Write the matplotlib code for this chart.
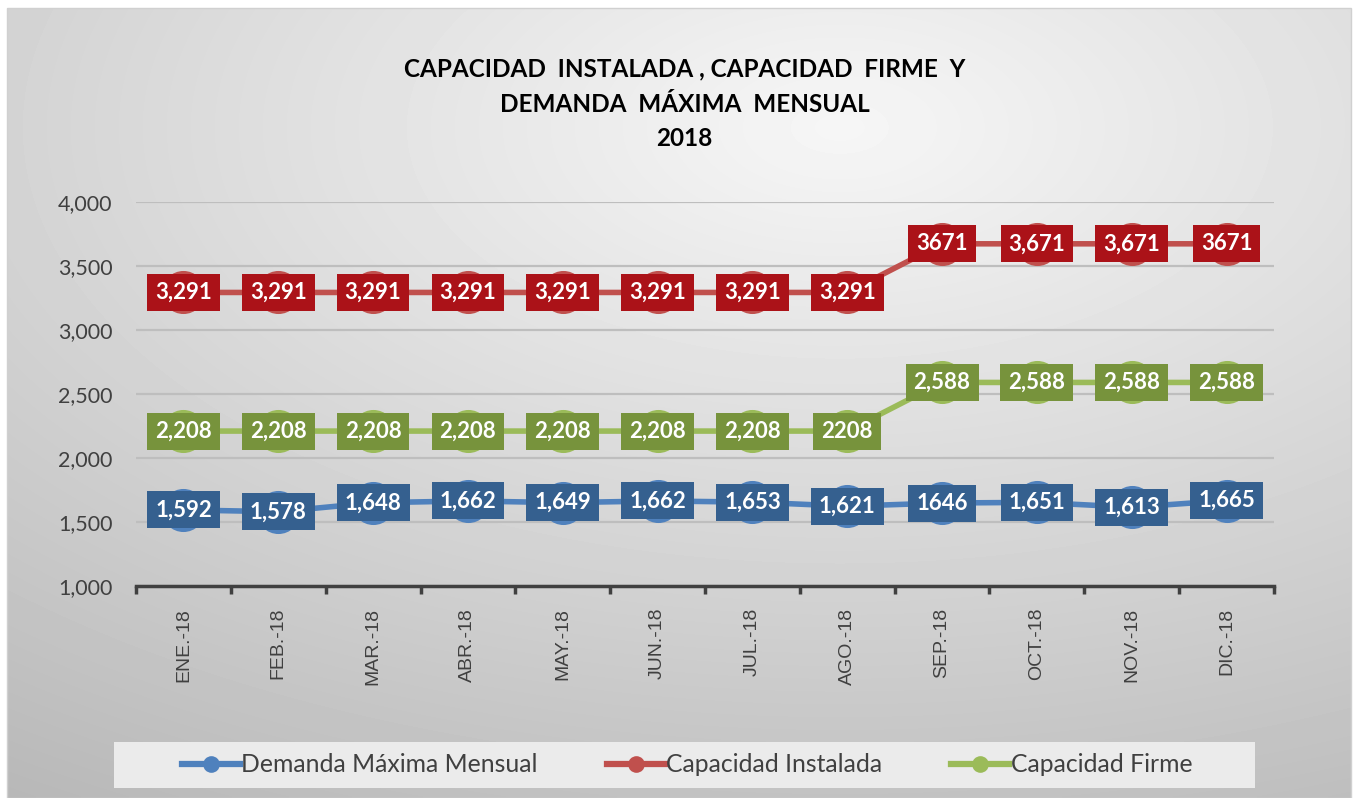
import numpy as np
import matplotlib
matplotlib.use('Agg')
import matplotlib.pyplot as plt
from matplotlib.lines import Line2D
from matplotlib.patches import Rectangle

W, H = 1353, 798

MONTHS = ['ENE.-18', 'FEB.-18', 'MAR.-18', 'ABR.-18', 'MAY.-18', 'JUN.-18',
          'JUL.-18', 'AGO.-18', 'SEP.-18', 'OCT.-18', 'NOV.-18', 'DIC.-18']

DEMANDA = [1592, 1578, 1648, 1662, 1649, 1662, 1653, 1621, 1646, 1651, 1613, 1665]
INSTALADA = [3291, 3291, 3291, 3291, 3291, 3291, 3291, 3291, 3671, 3671, 3671, 3671]
FIRME = [2208, 2208, 2208, 2208, 2208, 2208, 2208, 2208, 2588, 2588, 2588, 2588]

# labels as printed on the chart (formatting is not uniform)
DEMANDA_LBL = ['1,592', '1,578', '1,648', '1,662', '1,649', '1,662', '1,653',
               '1,621', '1646', '1,651', '1,613', '1,665']
INSTALADA_LBL = ['3,291'] * 8 + ['3671', '3,671', '3,671', '3671']
FIRME_LBL = ['2,208'] * 7 + ['2208', '2,588', '2,588', '2,588', '2,588']

Y_TICKS = [1000, 1500, 2000, 2500, 3000, 3500, 4000]

BLUE_LINE = '#4F81BD'
BLUE_BOX = '#35608F'
RED_LINE = '#C0504D'
RED_BOX = '#AB1218'
GREEN_LINE = '#9BBB59'
GREEN_BOX = '#77933C'
TEXT_GRAY = '#404040'

plt.rcParams['font.family'] = ['Lato', 'DejaVu Sans']

fig = plt.figure(figsize=(W / 100, H / 100), dpi=100)

# background: radial gray gradient inside a thin white margin
bg = fig.add_axes([0, 0, 1, 1], zorder=-10)
xx, yy = np.meshgrid(np.linspace(0, 1, 400), np.linspace(0, 1, 240))
r = np.sqrt(((xx - 0.62) / 1.1) ** 2 + ((yy - 0.15) / 1.0) ** 2)
shade = np.clip(0.965 - 0.24 * r, 0.72, 1)
bg.imshow(shade, cmap='gray', vmin=0, vmax=1, extent=[7, 1351, H, 8],
          aspect='auto', interpolation='bilinear')
bg.add_patch(Rectangle((7, 8), 1344, H - 8, fill=False, edgecolor='#D0D0D0', lw=1))
bg.set_xlim(0, W)
bg.set_ylim(H, 0)
bg.axis('off')

ax = fig.add_axes([136 / W, 1 - 585.7 / H, (1274 - 136) / W, (585.7 - 201.7) / H])
ax.patch.set_alpha(0)

x = np.arange(len(MONTHS))
series = [
    (DEMANDA, DEMANDA_LBL, BLUE_LINE, BLUE_BOX, 'Demanda Máxima Mensual'),
    (INSTALADA, INSTALADA_LBL, RED_LINE, RED_BOX, 'Capacidad Instalada'),
    (FIRME, FIRME_LBL, GREEN_LINE, GREEN_BOX, 'Capacidad Firme'),
]
handles = []
for vals, lbls, lc, bc, name in series:
    ax.plot(x, vals, color=lc, lw=4, marker='o', markersize=31,
            markeredgewidth=0, zorder=3)
    for xi, v, t in zip(x, vals, lbls):
        ax.text(xi, v, t, ha='center', va='center', color='white',
                fontsize=16, fontweight='bold', zorder=5,
                bbox=dict(boxstyle='square,pad=0.36', fc=bc, ec='none'))
    handles.append(Line2D([0], [0], color=lc, lw=4.5, marker='o', markersize=12,
                          markeredgewidth=0, label=name))

ax.set_xlim(-0.5, len(MONTHS) - 0.5)
ax.set_ylim(1000, 4000)
ax.set_yticks(Y_TICKS)
ax.set_yticklabels([f'{v:,}' for v in Y_TICKS])
ax.yaxis.grid(True, color='#BEBEBE', lw=1.6, zorder=0)
ax.set_axisbelow(True)

ax.set_xticks(x)
ax.set_xticklabels(MONTHS, rotation=90, fontsize=14, color=TEXT_GRAY,
                   family=['Liberation Sans', 'DejaVu Sans'])
ax.set_xticks(np.arange(-0.5, len(MONTHS)), minor=True)
ax.tick_params(axis='x', which='major', length=0, pad=16)
ax.tick_params(axis='x', which='minor', length=6, width=2.5, color='#404040')
ax.tick_params(axis='y', length=0, pad=17, labelsize=15.5, labelcolor=TEXT_GRAY)

for s in ['top', 'right', 'left']:
    ax.spines[s].set_visible(False)
ax.spines['bottom'].set_color('#404040')
ax.spines['bottom'].set_linewidth(2.5)

fig.text(0.506, 1 - 104 / H,
         'CAPACIDAD  INSTALADA , CAPACIDAD  FIRME  Y\nDEMANDA  MÁXIMA  MENSUAL\n2018',
         ha='center', va='center', fontsize=17.5, fontweight='bold',
         linespacing=1.62, color='black')

fig.patches.append(Rectangle((114 / W, 1 - 788 / H), (1255 - 114) / W, 46 / H,
                             transform=fig.transFigure, facecolor='#EBEBEB',
                             edgecolor='none', zorder=1))
fig.legend(handles=handles, loc='center', bbox_to_anchor=(687 / W, 1 - 765 / H),
           ncol=3, frameon=False, fontsize=17.8, handlelength=2.35,
           handletextpad=0.05, columnspacing=2.8, labelcolor=TEXT_GRAY)

fig.savefig('out.png', dpi=100)
